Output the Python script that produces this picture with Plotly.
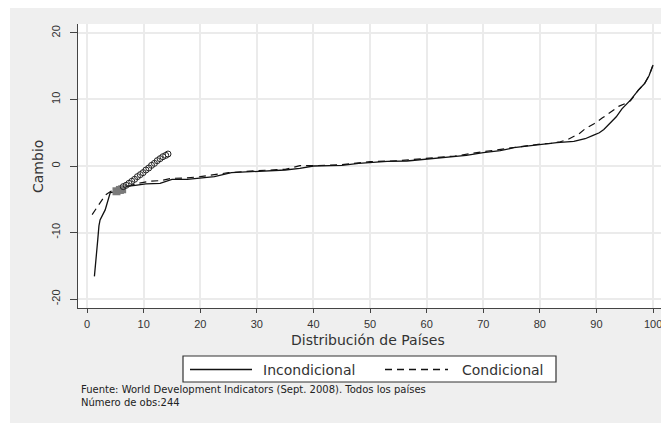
import plotly.graph_objects as go

# ---- data ----
incond_x = [1.3, 1.7, 1.9, 2.1, 2.3, 3.2, 3.7, 4.1, 5.0, 6.6, 8.5, 10.4, 12.9, 15.0, 17.7, 20.0,
            22.5, 25.5, 28.0, 30.0, 33.0, 35.0, 37.6, 40.0, 43.0, 45.0, 48.0, 50.0, 53.0, 56.5,
            60.0, 64.0, 67.0, 70.0, 73.0, 75.4, 78.0, 80.0, 83.0, 86.0, 88.0, 89.4, 90.5, 91.3,
            92.4, 93.5, 94.5, 95.3, 96.0, 97.4, 98.5, 99.3, 100.0]
incond_y = [-16.6, -13.5, -11.0, -9.0, -8.1, -6.6, -5.1, -4.0, -3.9, -3.1, -2.9, -2.7, -2.6, -2.0,
            -2.0, -1.8, -1.6, -1.0, -0.9, -0.85, -0.7, -0.6, -0.35, 0.0, 0.05, 0.1, 0.4, 0.55,
            0.7, 0.75, 1.05, 1.4, 1.6, 2.0, 2.3, 2.75, 3.0, 3.3, 3.5, 3.7, 4.1, 4.6, 5.0, 5.5,
            6.4, 7.4, 8.6, 9.3, 9.9, 11.4, 12.4, 13.6, 15.2]

cond_x = [0.9, 2.0, 3.2, 4.2, 5.5, 7.0, 9.0, 11.0, 13.0, 15.0, 17.5, 20.0, 25.0, 30.0, 35.0, 37.6,
          40.0, 45.0, 50.0, 55.0, 60.0, 65.0, 70.0, 75.0, 80.0, 82.0, 83.6, 85.0, 86.0, 87.0,
          88.0, 89.5, 91.0, 92.5, 94.0, 95.0, 96.0, 97.4, 98.5, 99.3, 100.0]
cond_y = [-7.3, -6.0, -4.4, -3.8, -3.6, -3.1, -2.6, -2.3, -2.2, -1.85, -1.8, -1.6, -1.0, -0.7,
          -0.5, 0.05, 0.05, 0.2, 0.65, 0.8, 1.15, 1.5, 2.15, 2.7, 3.3, 3.4, 3.65, 4.0, 4.4, 4.9,
          5.6, 6.3, 7.2, 8.1, 9.0, 9.35, 9.8, 11.4, 12.4, 13.6, 15.2]

cluster_x = [6.4, 6.9, 7.4, 7.9, 8.4, 8.9, 9.4, 9.9, 10.4, 10.9, 11.4, 11.9, 12.4, 12.9, 13.4, 13.9, 14.3]
cluster_y = [-3.1, -2.9, -2.6, -2.3, -2.0, -1.6, -1.3, -1.0, -0.6, -0.3, 0.1, 0.4, 0.8, 1.1, 1.4, 1.6, 1.8]
square_x = [5.2, 5.8, 6.2]
square_y = [-3.8, -3.6, -3.5]

x_ticks = [0, 10, 20, 30, 40, 50, 60, 70, 80, 90, 100]
y_ticks = [-20, -10, 0, 10, 20]

series_names = ["Incondicional", "Condicional"]
x_title = "Distribución de Países"
y_title = "Cambio"
note1 = "Fuente: World Development Indicators (Sept. 2008). Todos los países"
note2 = "Número de obs:244"

# ---- figure ----
# the page body has an 8px margin, so the figure starts at (8, 8) in the window
OFF = 8
W, H = 669 - OFF, 424 - OFF
L, R, T, B = 78 - OFF, 8, 24 - OFF, 116
pw, ph = W - L - R, H - T - B


def px2x(p):  # p in window pixels
    return (p - OFF - L) / pw


def px2y(p):
    return (H - B - (p - OFF)) / ph


fig = go.Figure()
fig.add_trace(go.Scatter(x=cond_x, y=cond_y, mode="lines",
                         line=dict(color="#111", width=1.2, dash="7px,5px"),
                         name=series_names[1], showlegend=False))
fig.add_trace(go.Scatter(x=incond_x, y=incond_y, mode="lines",
                         line=dict(color="#111", width=1.3),
                         name=series_names[0], showlegend=False))
fig.add_trace(go.Scatter(x=square_x, y=square_y, mode="markers",
                         marker=dict(symbol="square", size=8, color="#7a7a7a"),
                         showlegend=False))
fig.add_trace(go.Scatter(x=cluster_x, y=cluster_y, mode="markers",
                         marker=dict(symbol="circle-open", size=6, color="#222",
                                     line=dict(width=1)),
                         showlegend=False))

tickfont = dict(family="Liberation Sans, Arial", size=11, color="#333")
fig.update_layout(
    width=W, height=H, autosize=False,
    margin=dict(l=L, r=R, t=T, b=B),
    paper_bgcolor="white", plot_bgcolor="white",
    showlegend=False,
    xaxis=dict(range=[-1.6, 101.4], tickvals=x_ticks, ticktext=[str(v) for v in x_ticks],
               showline=True, linecolor="#444", linewidth=1.2, ticks="outside",
               ticklen=4, tickcolor="#444", showgrid=True, gridcolor="#ebebeb",
               gridwidth=1.5, zeroline=False, tickfont=tickfont, ticklabelstandoff=2),
    yaxis=dict(range=[-21.35, 21.35], tickvals=y_ticks, ticktext=[str(v) for v in y_ticks],
               tickangle=-90, showline=True, linecolor="#444", linewidth=1.2,
               ticks="outside", ticklen=7, tickcolor="#444", showgrid=True,
               gridcolor="#ebebeb", gridwidth=1.5, zeroline=False, tickfont=tickfont,
               ticklabelstandoff=6),
)

shapes = [
    dict(type="rect", xref="paper", yref="paper", layer="below",
         x0=px2x(10), x1=px2x(668), y0=px2y(423), y1=px2y(8),
         fillcolor="#efefef", line=dict(width=0)),
    dict(type="rect", xref="paper", yref="paper", layer="below",
         x0=0, x1=1, y0=0, y1=1, fillcolor="white", line=dict(width=0)),
    # legend box
    dict(type="rect", xref="paper", yref="paper",
         x0=px2x(183), x1=px2x(556), y0=px2y(382), y1=px2y(356),
         fillcolor="white", line=dict(color="#333", width=1.2)),
    dict(type="line", xref="paper", yref="paper",
         x0=px2x(190), x1=px2x(252), y0=px2y(369.5), y1=px2y(369.5),
         line=dict(color="#111", width=1.3)),
    dict(type="line", xref="paper", yref="paper",
         x0=px2x(385), x1=px2x(448), y0=px2y(369.5), y1=px2y(369.5),
         line=dict(color="#111", width=1.3, dash="7px,5px")),
]

lab_font = dict(family="DejaVu Sans, Arial", size=14, color="#333")
note_font = dict(family="DejaVu Sans, Arial", size=10, color="#222")
annotations = [
    dict(text=y_title, xref="paper", yref="paper", x=px2x(38), y=px2y(167),
         textangle=-90, showarrow=False, font=lab_font, xanchor="center", yanchor="middle"),
    dict(text=x_title, xref="paper", yref="paper", x=px2x(368), y=px2y(340),
         showarrow=False, font=lab_font, xanchor="center", yanchor="middle"),
    dict(text=series_names[0], xref="paper", yref="paper", x=px2x(261), y=px2y(370),
         showarrow=False, font=lab_font, xanchor="left", yanchor="middle"),
    dict(text=series_names[1], xref="paper", yref="paper", x=px2x(460), y=px2y(370),
         showarrow=False, font=lab_font, xanchor="left", yanchor="middle"),
    dict(text=note1, xref="paper", yref="paper", x=px2x(80), y=px2y(389),
         showarrow=False, font=note_font, xanchor="left", yanchor="middle", borderpad=0),
    dict(text=note2, xref="paper", yref="paper", x=px2x(80), y=px2y(402),
         showarrow=False, font=note_font, xanchor="left", yanchor="middle", borderpad=0),
]
fig.update_layout(shapes=shapes, annotations=annotations)

fig.write_html("out.html")
